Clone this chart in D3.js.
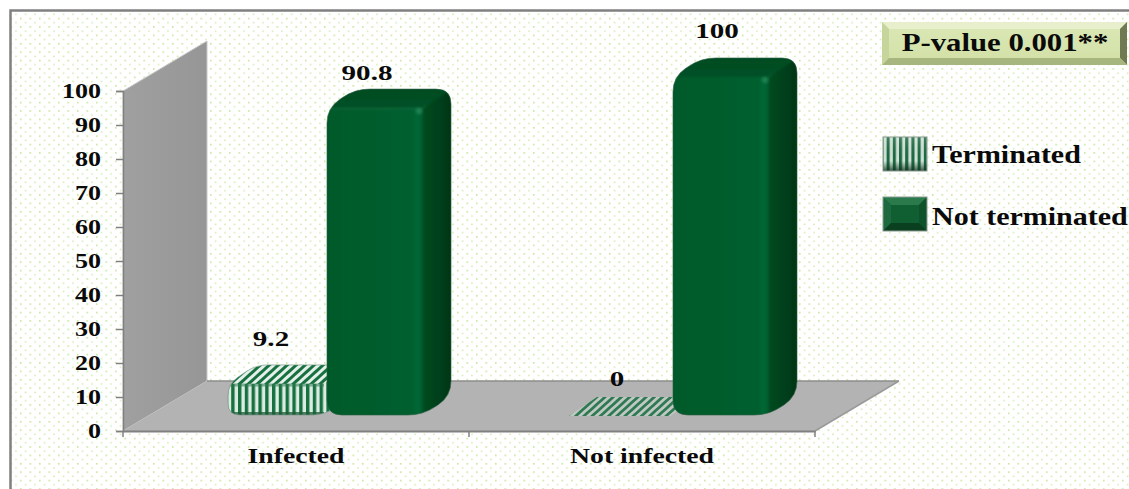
<!DOCTYPE html>
<html>
<head>
<meta charset="utf-8">
<script src="https://cdn.jsdelivr.net/npm/d3@7/dist/d3.min.js"></script>
<style>
html,body{margin:0;padding:0;background:#fff}
svg{display:block}
text{font-family:"Liberation Serif",serif;font-weight:bold;fill:#0a0a0a}
</style>
</head>
<body>
<script>
const categories = ["Infected", "Not infected"];
const seriesNames = ["Terminated", "Not terminated"];
const terminated = [9.2, 0];
const notTerminated = [90.8, 100];
const valueTicks = [0, 10, 20, 30, 40, 50, 60, 70, 80, 90, 100];
const noteText = "P-value 0.001**";

const W = 1129, H = 489;
const depth = {dx: 28, dy: 19};
const wallDepth = {dx: 84, dy: 50};
const plot = {left: 123, right: 815, top: 91, bottom: 431};

const svg = d3.select("body").append("svg").attr("width", W).attr("height", H);
const defs = svg.append("defs");

// page texture: staggered pale green dots
const dots = defs.append("pattern").attr("id", "dots").attr("patternUnits", "userSpaceOnUse")
  .attr("width", 9.5).attr("height", 8.4);
dots.append("rect").attr("x", 1).attr("y", 1).attr("width", 1.5).attr("height", 1.5).attr("fill", "#bce48c");
dots.append("rect").attr("x", 5.75).attr("y", 5.2).attr("width", 1.5).attr("height", 1.5).attr("fill", "#cdeaae");

// hatch fills of the Terminated series
function hatch(id, period, angle, dark, light) {
  const p = defs.append("pattern").attr("id", id).attr("patternUnits", "userSpaceOnUse")
    .attr("width", period).attr("height", period)
    .attr("patternTransform", `rotate(${angle})`);
  p.append("rect").attr("width", period).attr("height", period).attr("fill", light);
  p.append("rect").attr("width", period * 0.5).attr("height", period).attr("fill", dark);
}
hatch("hatchFront", 6.8, 0, "#15703f", "#dcece2");
hatch("hatchTop", 6, 48, "#15703f", "#e6f0ea");
hatch("hatchFlat", 5.5, 48, "#2f7a52", "#c0c8c3");
hatch("hatchKey", 6.2, 0, "#1d6a42", "#d3e3d9");

function linear(id, x2, y2, stops) {
  const g = defs.append("linearGradient").attr("id", id)
    .attr("x1", 0).attr("y1", 0).attr("x2", x2).attr("y2", y2);
  stops.forEach(([o, c, a]) => {
    const s = g.append("stop").attr("offset", o).attr("stop-color", c);
    if (a !== undefined) s.attr("stop-opacity", a);
  });
}
linear("frontFill", 1, 0, [[0, "#00501f"], [0.06, "#005a2b"], [0.88, "#005f2e"], [0.95, "#006835"], [1, "#005a2c"]]);
linear("sideFill", 1, 0, [[0, "#004a20"], [0.5, "#003f1b"], [1, "#003115"]]);
linear("topFill", 0, 1, [[0, "#004a21"], [1, "#005227"]]);
linear("wallFill", 1, 0, [[0, "#a0a0a0"], [1, "#969696"]]);
linear("noteFill", 0, 1, [[0, "#dbe8b6"], [1, "#d2e0a6"]]);
linear("keyShade", 0, 1, [[0, "#ffffff", 0.15], [0.7, "#0a3a20", 0], [1, "#0a2a18", 0.75]]);
defs.append("filter").attr("id", "soft").attr("x", "-5%").attr("y", "-5%").attr("width", "110%").attr("height", "110%")
  .append("feGaussianBlur").attr("stdDeviation", 1.2);
defs.append("filter").attr("id", "edge").attr("x", "-5%").attr("y", "-5%").attr("width", "110%").attr("height", "110%")
  .append("feGaussianBlur").attr("stdDeviation", 0.9);
defs.append("filter").attr("id", "fine").attr("x", "-5%").attr("y", "-5%").attr("width", "110%").attr("height", "110%")
  .append("feGaussianBlur").attr("stdDeviation", 0.6);

// text stretched horizontally, as the whole figure is wider than tall
function label(g, x, y, str, size, sx, anchor) {
  return g.append("text").attr("transform", `translate(${x},${y}) scale(${sx},1)`)
    .attr("text-anchor", anchor).attr("font-size", size).text(str);
}

// page and frame
svg.append("rect").attr("x", 10).attr("y", 10).attr("width", W).attr("height", H).attr("fill", "url(#dots)");
svg.append("path").attr("d", `M${W},10.5H10.5V${H}`).attr("fill", "none").attr("stroke", "#808080").attr("stroke-width", 2.5);

// scales
const x0 = d3.scaleBand().domain(categories).range([plot.left, plot.right]);
const x1 = d3.scaleBand().domain(seriesNames).range([105, 303]);
const y = d3.scaleLinear().domain([0, 100]).range([plot.bottom, plot.top]);
const yBar = d3.scaleLinear().domain([0, 100]).range([415, 77]);

// wall and floor
const line = d3.line();
svg.append("path").attr("d", line([
  [plot.left, y(100)], [plot.left + wallDepth.dx, y(100) - wallDepth.dy],
  [plot.left + wallDepth.dx, y(0) - wallDepth.dy], [plot.left, y(0)]]) + "Z")
  .attr("fill", "url(#wallFill)").attr("stroke", "#c8c8c8").attr("stroke-width", 1);
svg.append("path").attr("d", line([
  [plot.left, y(0)], [plot.left + wallDepth.dx, y(0) - wallDepth.dy],
  [plot.right + wallDepth.dx, y(0) - wallDepth.dy], [plot.right, y(0)]]) + "Z")
  .attr("fill", "#b3b3b3");
svg.append("path").attr("d", line([
  [plot.left + wallDepth.dx, y(0) - wallDepth.dy], [plot.right + wallDepth.dx, y(0) - wallDepth.dy]]))
  .attr("stroke", "#8c8c8c").attr("stroke-width", 1.5);
svg.append("path").attr("d", line([[plot.right, y(0)], [plot.right + wallDepth.dx, y(0) - wallDepth.dy]]))
  .attr("stroke", "#9a9a9a").attr("stroke-width", 1.5);

// axes
const yAxis = d3.axisLeft(y).tickValues(valueTicks).tickSize(7).tickPadding(7);
const yG = svg.append("g").attr("transform", `translate(${plot.left},0)`).call(yAxis);
yG.selectAll("path,line").attr("stroke", "#808080").attr("stroke-width", 1.5);
yG.selectAll("text").remove();
yG.selectAll(".tick").each(function(d) {
  label(d3.select(this), -22, 6.5, d, 21, 1.24, "end");
});

const xAxis = d3.axisBottom(x0).tickValues([]).tickSize(0);
const xG = svg.append("g").attr("transform", `translate(0,${plot.bottom})`).call(xAxis);
xG.select("path").attr("stroke", "#808080").attr("stroke-width", 2);
xG.selectAll(".edge").data(x0.range().concat(x0(categories[1]))).join("line")
  .attr("class", "edge").attr("x1", d => d).attr("x2", d => d).attr("y1", 0).attr("y2", 6)
  .attr("stroke", "#808080").attr("stroke-width", 1.5);
categories.forEach(c => label(svg, x0(c) + x0.bandwidth() / 2, 463, c, 22, 1.26, "middle"));

// rounded silhouette of a box, corners eased with quadratic curves
function rounded(pts, r) {
  const n = pts.length;
  let d = "";
  pts.forEach((p, i) => {
    const a = pts[(i + n - 1) % n], b = pts[(i + 1) % n];
    const toward = (q) => {
      const L = Math.hypot(q[0] - p[0], q[1] - p[1]), t = Math.min(r, L / 2) / L;
      return [p[0] + (q[0] - p[0]) * t, p[1] + (q[1] - p[1]) * t];
    };
    const s = toward(a), e = toward(b);
    d += `${i ? "L" : "M"}${s[0]},${s[1]}Q${p[0]},${p[1]} ${e[0]},${e[1]}`;
  });
  return d + "Z";
}

function drawBox(g, xLeft, w, yTop, yBase, solid, idKey) {
  const dx = depth.dx, dy = depth.dy;
  const outline = [[xLeft, yTop], [xLeft + dx, yTop - dy], [xLeft + w + dx, yTop - dy],
    [xLeft + w + dx, yBase - dy], [xLeft + w, yBase], [xLeft, yBase]];
  const r = solid ? 15 : 12;
  defs.append("clipPath").attr("id", idKey).append("path").attr("d", rounded(outline, r));
  const clip = g.append("g").attr("clip-path", `url(#${idKey})`);
  const box = clip.append("g").attr("filter", solid ? "url(#edge)" : "url(#fine)");
  const poly = (pts) => line(pts) + "Z";
  box.append("path").attr("d", poly([[xLeft - 4, yTop + 3], [xLeft + dx - 4, yTop - dy - 6], [xLeft + w + dx + 6, yTop - dy - 6], [xLeft + w + dx + 6, yTop - dy], [xLeft + w, yTop], [xLeft - 4, yTop]]))
    .attr("fill", solid ? "url(#topFill)" : "url(#hatchTop)");
  box.append("path").attr("d", poly([[xLeft + w, yTop], [xLeft + w + dx + 6, yTop - dy - 4], [xLeft + w + dx + 6, yBase + 4], [xLeft + w, yBase + 4]]))
    .attr("fill", solid ? "url(#sideFill)" : "url(#hatchFront)");
  box.append("rect").attr("x", xLeft - 4).attr("y", yTop).attr("width", w + 4).attr("height", yBase - yTop + 4)
    .attr("fill", solid ? "url(#frontFill)" : "url(#hatchFront)");
  if (solid) {
    box.append("path").attr("d", `M${xLeft},${yTop + 1}H${xLeft + w - 3}`).attr("stroke", "#006636")
      .attr("stroke-width", 5).attr("filter", "url(#soft)");
    box.append("path").attr("d", `M${xLeft},${yBase - 1}H${xLeft + w}`).attr("stroke", "#003f1a")
      .attr("stroke-width", 4).attr("filter", "url(#soft)");
    box.append("path").attr("d", `M${xLeft + 1},${yTop}V${yBase}`).attr("stroke", "#00431c")
      .attr("stroke-width", 3).attr("filter", "url(#soft)");
    box.append("circle").attr("cx", xLeft + w - 4).attr("cy", yTop + 3).attr("r", 3)
      .attr("fill", "#1f8455").attr("filter", "url(#soft)");
  } else {
    box.append("path").attr("d", `M${xLeft},${yTop + 1}H${xLeft + w}`).attr("stroke", "#2f7a52")
      .attr("stroke-width", 3).attr("stroke-opacity", 0.55);
    box.append("path").attr("d", `M${xLeft},${yBase - 1}H${xLeft + w}`).attr("stroke", "#1d5a38")
      .attr("stroke-width", 4).attr("stroke-opacity", 0.75);
  }
  g.append("path").attr("d", rounded(outline, r)).attr("fill", "none")
    .attr("stroke", solid ? "#2a5f42" : "#6f9380").attr("stroke-width", 0.8).attr("stroke-opacity", 0.8);
}

// bars: Terminated first so the taller solid bar overlaps its right edge
const barW = 96;
const marks = svg.append("g");
[[terminated, seriesNames[0], false], [notTerminated, seriesNames[1], true]].forEach(([values, name, solid], si) => {
  values.forEach((v, i) => {
    const xL = x0(categories[i]) + x1(name);
    if (v === 0) {
      const pts = [[xL - 5, yBar(0) + 1], [xL - 5 + depth.dx, yBar(0) + 1 - depth.dy],
        [xL + barW + depth.dx, yBar(0) + 1 - depth.dy], [xL + barW, yBar(0) + 1]];
      marks.append("path").attr("d", line(pts) + "Z").attr("fill", "url(#hatchFlat)");
    } else {
      drawBox(marks, xL, barW, yBar(v), yBar(0), solid, `box${si}${i}`);
    }
  });
});

// value labels
const valueLabelPos = [
  {s: 0, i: 0, v: terminated[0], dx: 43, dy: -38},
  {s: 1, i: 0, v: notTerminated[0], dx: 40, dy: -28},
  {s: 0, i: 1, v: terminated[1], dx: 43, dy: -29},
  {s: 1, i: 1, v: notTerminated[1], dx: 44, dy: -39}
];
valueLabelPos.forEach(p => {
  const cx = x0(categories[p.i]) + x1(seriesNames[p.s]) + p.dx;
  label(svg, cx, yBar(p.v) + p.dy, p.v, 22, 1.32, "middle");
});

// note box with bevelled edge
const note = svg.append("g");
const nb = {x: 882, y: 22, w: 245, h: 43, b: 7};
note.append("rect").attr("x", nb.x).attr("y", nb.y).attr("width", nb.w).attr("height", nb.h).attr("fill", "url(#noteFill)");
const bevel = (pts, fill, parent = note) => parent.append("path").attr("d", line(pts) + "Z").attr("fill", fill);
bevel([[nb.x, nb.y], [nb.x + nb.w, nb.y], [nb.x + nb.w - nb.b, nb.y + nb.b], [nb.x + nb.b, nb.y + nb.b]], "#e8efcc");
bevel([[nb.x, nb.y], [nb.x + nb.b, nb.y + nb.b], [nb.x + nb.b, nb.y + nb.h - nb.b], [nb.x, nb.y + nb.h]], "#c6d59c");
bevel([[nb.x + nb.w, nb.y], [nb.x + nb.w, nb.y + nb.h], [nb.x + nb.w - nb.b, nb.y + nb.h - nb.b], [nb.x + nb.w - nb.b, nb.y + nb.b]], "#6f7a52");
bevel([[nb.x, nb.y + nb.h], [nb.x + nb.w, nb.y + nb.h], [nb.x + nb.w - nb.b, nb.y + nb.h - nb.b], [nb.x + nb.b, nb.y + nb.h - nb.b]], "#a7b57f");
label(note, nb.x + nb.w / 2 + 0.5, 51, noteText, 25, 1.23, "middle");

// legend
const legendY = d3.scalePoint().domain(seriesNames).range([137, 197]);
const legend = svg.append("g");
seriesNames.forEach((name, i) => {
  const ky = legendY(name), solid = i === 1;
  const kx = 883, kw = 44, kh = 34, b = 8;
  if (solid) {
    legend.append("rect").attr("x", kx).attr("y", ky).attr("width", kw).attr("height", kh).attr("fill", "#0f5f33");
    bevel([[kx, ky], [kx + kw, ky], [kx + kw - b, ky + b], [kx + b, ky + b]], "#2a7a4c", legend);
    bevel([[kx, ky], [kx + b, ky + b], [kx + b, ky + kh - b], [kx, ky + kh]], "#1c6a3e", legend);
    bevel([[kx + kw, ky], [kx + kw, ky + kh], [kx + kw - b, ky + kh - b], [kx + kw - b, ky + b]], "#0e5229", legend);
    bevel([[kx, ky + kh], [kx + kw, ky + kh], [kx + kw - b, ky + kh - b], [kx + b, ky + kh - b]], "#0a3f20", legend);
  } else {
    const key = legend.append("g").attr("filter", "url(#fine)");
    key.append("rect").attr("x", kx).attr("y", ky).attr("width", kw).attr("height", kh).attr("fill", "url(#hatchKey)");
    key.append("rect").attr("x", kx).attr("y", ky).attr("width", kw).attr("height", kh).attr("fill", "url(#keyShade)");
  }
  legend.append("rect").attr("x", kx).attr("y", ky).attr("width", kw).attr("height", kh)
    .attr("fill", "none").attr("stroke", "#8a9a90").attr("stroke-width", 1);
  label(legend, 932, ky + 26 + i * 2, name, 25, 1.2, "start");
});
</script>
</body>
</html>
